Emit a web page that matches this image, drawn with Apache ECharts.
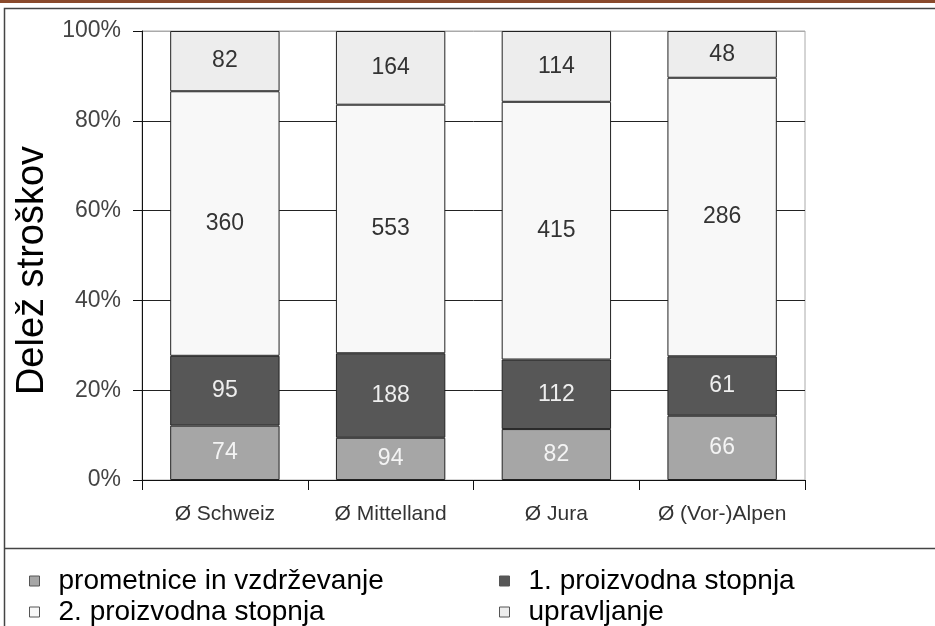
<!DOCTYPE html>
<html>
<head>
<meta charset="utf-8">
<script src="https://cdn.jsdelivr.net/npm/echarts@6/dist/echarts.min.js"></script>
<style>
  html, body { margin: 0; padding: 0; background: #fff; }
  #chart { width: 935px; height: 626px; }
</style>
</head>
<body>
<div id="chart"></div>
<script>
// cost shares per region (raw values, shown as labels; bar heights are shares of the total)
const categories = ['Ø Schweiz', 'Ø Mittelland', 'Ø Jura', 'Ø (Vor-)Alpen']
const seriesNames = ['prometnice in vzdrževanje', '1. proizvodna stopnja', '2. proizvodna stopnja', 'upravljanje']
const roads = [74, 94, 82, 66]
const stage1 = [95, 188, 112, 61]
const stage2 = [360, 553, 415, 286]
const management = [82, 164, 114, 48]
const yTicks = [0, 20, 40, 60, 80, 100]

const FONT = '"Liberation Sans", Arial, sans-serif'
const fills = ['#a6a6a6', '#575757', '#f8f8f8', '#ededed']
const labelColors = ['#f4f4f4', '#eeeeee', '#333333', '#333333']

const raw = [roads, stage1, stage2, management]
const totals = categories.map((_, i) => raw.reduce((s, arr) => s + arr[i], 0))

const series = raw.map((values, k) => ({
  name: seriesNames[k],
  type: 'bar',
  stack: 'share',
  barWidth: '66%',
  data: values.map((v, i) => (v / totals[i]) * 100),
  itemStyle: { color: fills[k], borderColor: '#222', borderWidth: 1 },
  label: {
    show: true,
    position: 'inside',
    color: labelColors[k],
    fontFamily: FONT,
    fontSize: 23,
    formatter: (p) => String(values[p.dataIndex]),
  },
  emphasis: { disabled: true },
}))

// one legend block per item so the two columns line up like the original
const legendPos = [
  { left: 24, top: 562 },
  { left: 494, top: 562 },
  { left: 24, top: 593 },
  { left: 494, top: 593 },
]
const legends = seriesNames.map((name, k) => ({
  data: [name],
  left: legendPos[k].left,
  top: legendPos[k].top,
  selectedMode: false,
  itemWidth: 10,
  itemHeight: 10,
  icon: 'rect',
  itemStyle: { borderColor: '#555', borderWidth: 1 },
  textStyle: { fontFamily: FONT, fontSize: 28, color: '#000', padding: [0, 0, 0, 14] },
}))

const chart = echarts.init(document.getElementById('chart'))
chart.setOption({
  animation: false,
  backgroundColor: '#fff',
  legend: legends,
  grid: { left: 142, right: 130, top: 31, bottom: 146, show: true, borderColor: '#aaaaaa', borderWidth: 1 },
  xAxis: {
    type: 'category',
    data: categories,
    axisLine: { lineStyle: { color: '#111', width: 1 } },
    axisTick: { show: true, interval: 0, length: 10, lineStyle: { color: '#111' } },
    axisLabel: { interval: 0, hideOverlap: false, color: '#333', fontFamily: FONT, fontSize: 21, margin: 24 },
  },
  yAxis: {
    type: 'value',
    min: yTicks[0],
    max: yTicks[yTicks.length - 1],
    interval: 20,
    name: 'Delež stroškov',
    nameLocation: 'middle',
    nameGap: 84,
    nameTextStyle: { color: '#000', fontFamily: FONT, fontSize: 38, padding: [0, 30, 0, 0] },
    axisLine: { show: true, lineStyle: { color: '#111', width: 1 } },
    axisTick: { show: true, length: 9, lineStyle: { color: '#111' } },
    axisLabel: { color: '#444', fontFamily: FONT, fontSize: 23, margin: 21, formatter: '{value}%' },
    splitLine: { lineStyle: { color: ['#222', '#222', '#222', '#222', '#222', '#aaaaaa'], width: 1 } },
  },
  series,
  graphic: [
    { type: 'rect', shape: { x: 0, y: 0, width: 935, height: 3 }, style: { fill: '#8a4a2c' }, silent: true },
    { type: 'polyline', shape: { points: [[4.5, 626], [4.5, 8.5], [935, 8.5]] }, style: { stroke: '#444', lineWidth: 1.5, fill: null }, silent: true },
    { type: 'line', shape: { x1: 4, y1: 548.5, x2: 935, y2: 548.5 }, style: { stroke: '#444', lineWidth: 1.5 }, silent: true },
  ],
})
</script>
</body>
</html>
